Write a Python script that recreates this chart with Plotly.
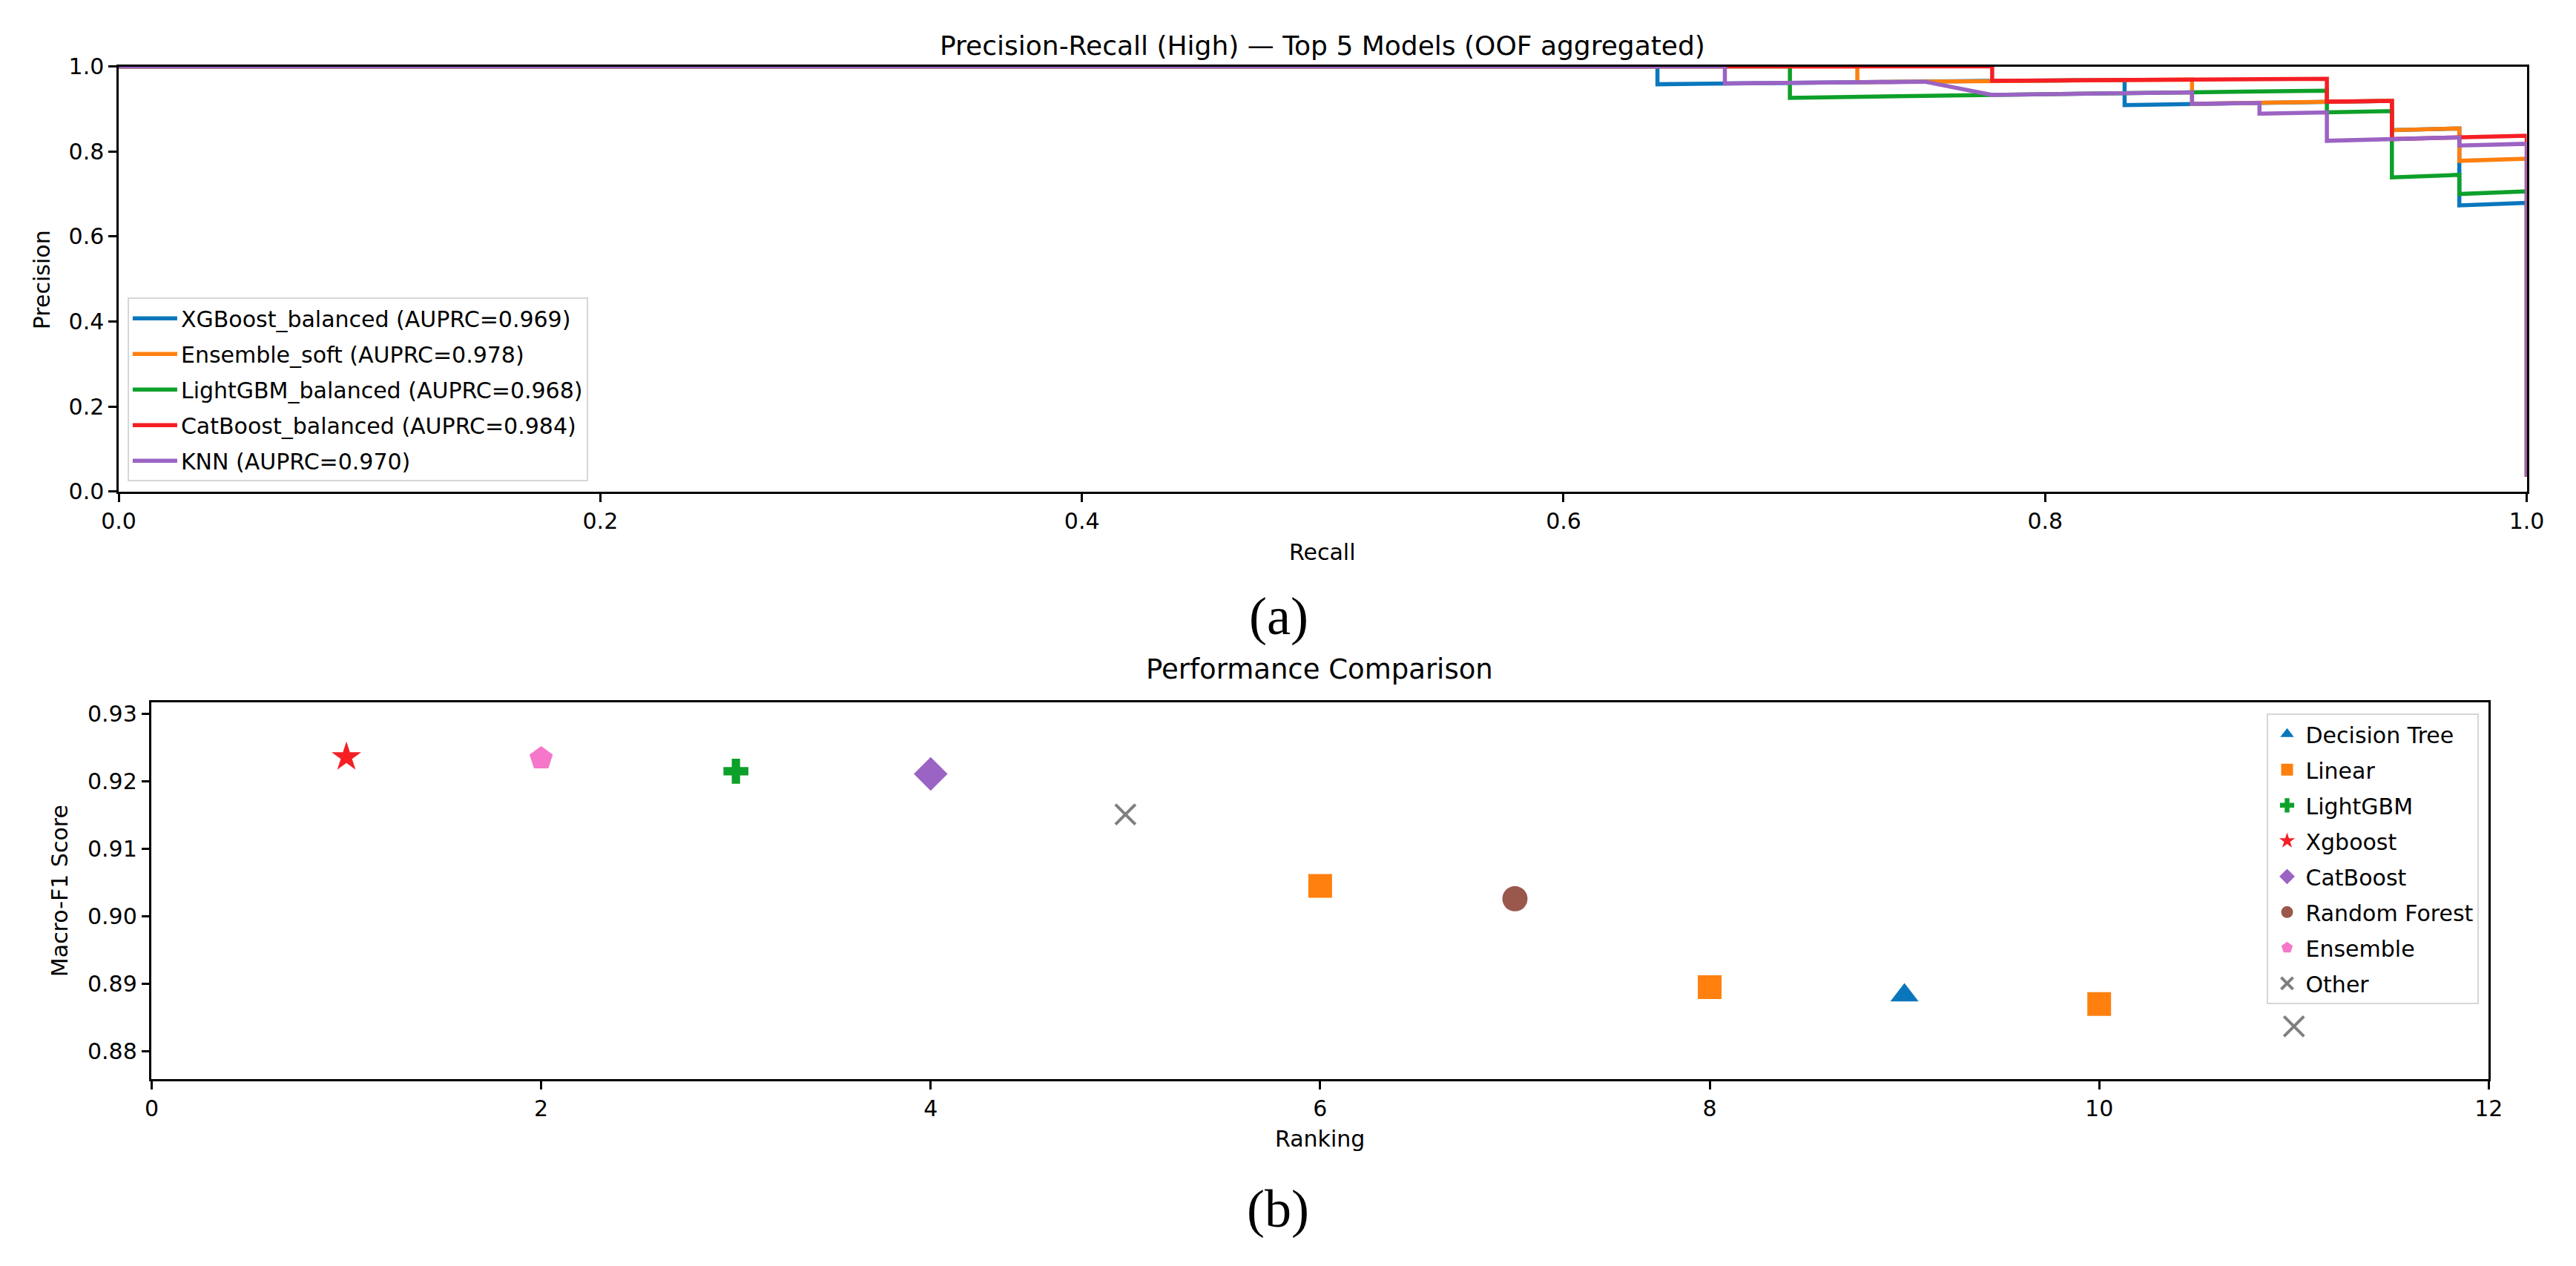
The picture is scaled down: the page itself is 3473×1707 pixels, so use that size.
import plotly.graph_objects as go

# ---------------- Data: Precision-Recall curves (panel a) ----------------
xgb_recall = [0.0, 0.639, 0.639, 0.667, 0.694, 0.722, 0.750, 0.778, 0.806, 0.833, 0.833, 0.861, 0.889, 0.917, 0.944, 0.944, 0.972, 0.972, 1.0, 1.0]
xgb_precision = [1.0, 1.0, 0.958, 0.960, 0.962, 0.963, 0.964, 0.966, 0.967, 0.968, 0.909, 0.912, 0.914, 0.917, 0.919, 0.850, 0.854, 0.673, 0.679, 0.035]

ens_recall = [0.0, 0.722, 0.722, 0.750, 0.778, 0.806, 0.833, 0.861, 0.861, 0.889, 0.917, 0.944, 0.944, 0.972, 0.972, 1.0, 1.0]
ens_precision = [1.0, 1.0, 0.963, 0.964, 0.966, 0.967, 0.968, 0.969, 0.912, 0.914, 0.917, 0.919, 0.850, 0.854, 0.778, 0.783, 0.035]

lgb_recall = [0.0, 0.694, 0.694, 0.722, 0.750, 0.778, 0.806, 0.833, 0.861, 0.889, 0.917, 0.917, 0.944, 0.944, 0.972, 0.972, 1.0, 1.0]
lgb_precision = [1.0, 1.0, 0.926, 0.929, 0.931, 0.933, 0.935, 0.938, 0.939, 0.941, 0.943, 0.892, 0.895, 0.739, 0.745, 0.700, 0.706, 0.035]

cat_recall = [0.0, 0.778, 0.778, 0.806, 0.833, 0.861, 0.889, 0.917, 0.917, 0.944, 0.944, 0.972, 1.0, 1.0]
cat_precision = [1.0, 1.0, 0.966, 0.967, 0.968, 0.969, 0.970, 0.971, 0.917, 0.919, 0.829, 0.833, 0.837, 0.035]

knn_recall = [0.0, 0.667, 0.667, 0.694, 0.722, 0.750, 0.778, 0.806, 0.833, 0.861, 0.861, 0.889, 0.889, 0.917, 0.917, 0.944, 0.972, 0.972, 1.0, 1.0]
knn_precision = [1.0, 1.0, 0.960, 0.962, 0.963, 0.964, 0.933, 0.935, 0.938, 0.939, 0.912, 0.914, 0.889, 0.892, 0.825, 0.829, 0.833, 0.814, 0.818, 0.035]

pr_names = ["XGBoost_balanced (AUPRC=0.969)", "Ensemble_soft (AUPRC=0.978)",
            "LightGBM_balanced (AUPRC=0.968)", "CatBoost_balanced (AUPRC=0.984)",
            "KNN (AUPRC=0.970)"]
pr_x = [xgb_recall, ens_recall, lgb_recall, cat_recall, knn_recall]
pr_y = [xgb_precision, ens_precision, lgb_precision, cat_precision, knn_precision]

pr_ticks = [0.0, 0.2, 0.4, 0.6, 0.8, 1.0]

# ---------------- Data: Performance comparison (panel b) ----------------
ranking = [1, 2, 3, 4, 5, 6, 7, 8, 9, 10, 11]
macro_f1 = [0.9236, 0.9234, 0.9215, 0.9211, 0.9151, 0.9045, 0.9026, 0.8895, 0.8883, 0.8870, 0.8837]
model_type = ["Xgboost", "Ensemble", "LightGBM", "CatBoost", "Other", "Linear",
              "Random Forest", "Linear", "Decision Tree", "Linear", "Other"]
legend_order = ["Decision Tree", "Linear", "LightGBM", "Xgboost", "CatBoost",
                "Random Forest", "Ensemble", "Other"]
rank_ticks = [0, 2, 4, 6, 8, 10, 12]
f1_ticks = [0.88, 0.89, 0.90, 0.91, 0.92, 0.93]

# ---------------- Styles ----------------
W, H = 3473, 1707
FONT = "DejaVu Sans, Noto Sans, sans-serif"
SERIF = "Liberation Serif, DejaVu Serif, serif"
line_colors = ["#0a77bd", "#ff800e", "#0da02a", "#f51f24", "#9b63c3"]
marker_style = {
    "Decision Tree": dict(symbol="triangle-up", color="#0a77bd", size=33),
    "Linear": dict(symbol="square", color="#ff800e", size=32),
    "LightGBM": dict(symbol="cross", color="#0da02a", size=28),
    "Xgboost": dict(symbol="star", color="#f51f24", size=30),
    "CatBoost": dict(symbol="diamond", color="#9b63c3", size=35),
    "Random Forest": dict(symbol="circle", color="#9a574c", size=34),
    "Ensemble": dict(symbol="pentagon", color="#f577c9", size=33),
    "Other": dict(symbol="x-thin", color="#7f7f7f", size=27),
}


def px_x(x):
    return x / W


def px_y(y):
    return 1 - y / H


fig = go.Figure()

for name, xs, ys, c in zip(pr_names, pr_x, pr_y, line_colors):
    fig.add_trace(go.Scatter(x=xs, y=ys, mode="lines", name=name,
                             line=dict(color=c, width=5.5),
                             xaxis="x", yaxis="y", legend="legend", legendgroup=name))

for cat in legend_order:
    xs = [r for r, t in zip(ranking, model_type) if t == cat]
    ys = [v for v, t in zip(macro_f1, model_type) if t == cat]
    st = marker_style[cat]
    if cat == "Other":
        marker = dict(symbol=st["symbol"], size=st["size"],
                      line=dict(color=st["color"], width=4))
    else:
        marker = dict(symbol=st["symbol"], size=st["size"], color=st["color"],
                      line=dict(width=0))
    fig.add_trace(go.Scatter(x=xs, y=ys, mode="markers", name=cat, marker=marker,
                             xaxis="x2", yaxis="y2", legend="legend2", legendgroup=cat,
                             cliponaxis=False))

axis_common = dict(showline=True, mirror=True, linecolor="black", linewidth=2.5,
                   ticks="outside", ticklen=11, tickwidth=2.5, tickcolor="black",
                   showgrid=False, zeroline=False,
                   tickfont=dict(family=FONT, size=30, color="black"))

fig.update_layout(
    width=W, height=H,
    margin=dict(l=0, r=0, t=0, b=0),
    paper_bgcolor="white", plot_bgcolor="white",
    font=dict(family=FONT, color="black"),
    xaxis=dict(domain=[px_x(138), px_x(3430)], anchor="y", range=[0, 1],
               tickvals=pr_ticks, tickformat=".1f", **axis_common),
    yaxis=dict(domain=[px_y(659), px_y(74)], anchor="x", range=[0, 1],
               tickvals=pr_ticks, tickformat=".1f", **axis_common),
    xaxis2=dict(domain=[px_x(183), px_x(3378)], anchor="y2", range=[0, 12],
                tickvals=rank_ticks, tickformat="d", **axis_common),
    yaxis2=dict(domain=[px_y(1467), px_y(949)], anchor="x2", range=[0.8759, 0.9317],
                tickvals=f1_ticks, tickformat=".2f", **axis_common),
    legend=dict(x=px_x(150), y=px_y(645), xanchor="left", yanchor="bottom",
                bgcolor="rgba(255,255,255,0.8)", bordercolor="#d6d6d6", borderwidth=2,
                font=dict(family=FONT, size=30, color="black"),
                itemwidth=60, tracegroupgap=6, traceorder="grouped"),
    legend2=dict(x=px_x(3365), y=px_y(964), xanchor="right", yanchor="top",
                 bgcolor="rgba(255,255,255,0.8)", bordercolor="#d6d6d6", borderwidth=2,
                 font=dict(family=FONT, size=30, color="black"),
                 itemwidth=40, tracegroupgap=6, traceorder="grouped"),
    showlegend=True,
)

annotations = [
    dict(text="Precision-Recall (High) \u2014 Top 5 Models (OOF aggregated)", x=px_x(1784), y=px_y(45),
         font=dict(family=FONT, size=36, color="black")),
    dict(text="Recall", x=px_x(1784), y=px_y(742), font=dict(family=FONT, size=30, color="black")),
    dict(text="Precision", x=px_x(33), y=px_y(368), textangle=-90,
         font=dict(family=FONT, size=30, color="black")),
    dict(text="(a)", x=px_x(1724), y=px_y(831), font=dict(family=SERIF, size=72, color="black")),
    dict(text="Performance Comparison", x=px_x(1780), y=px_y(904),
         font=dict(family=FONT, size=37, color="black")),
    dict(text="Ranking", x=px_x(1780), y=px_y(1549), font=dict(family=FONT, size=30, color="black")),
    dict(text="Macro-F1 Score", x=px_x(58), y=px_y(1208), textangle=-90,
         font=dict(family=FONT, size=30, color="black")),
    dict(text="(b)", x=px_x(1723), y=px_y(1646), font=dict(family=SERIF, size=72, color="black")),
]
for a in annotations:
    a.update(xref="paper", yref="paper", showarrow=False, xanchor="center", yanchor="middle")
fig.update_layout(annotations=annotations)

fig.write_html("out.html", config={"displayModeBar": False},
               post_script="document.body.style.margin='0px';document.body.style.overflow='hidden';")
